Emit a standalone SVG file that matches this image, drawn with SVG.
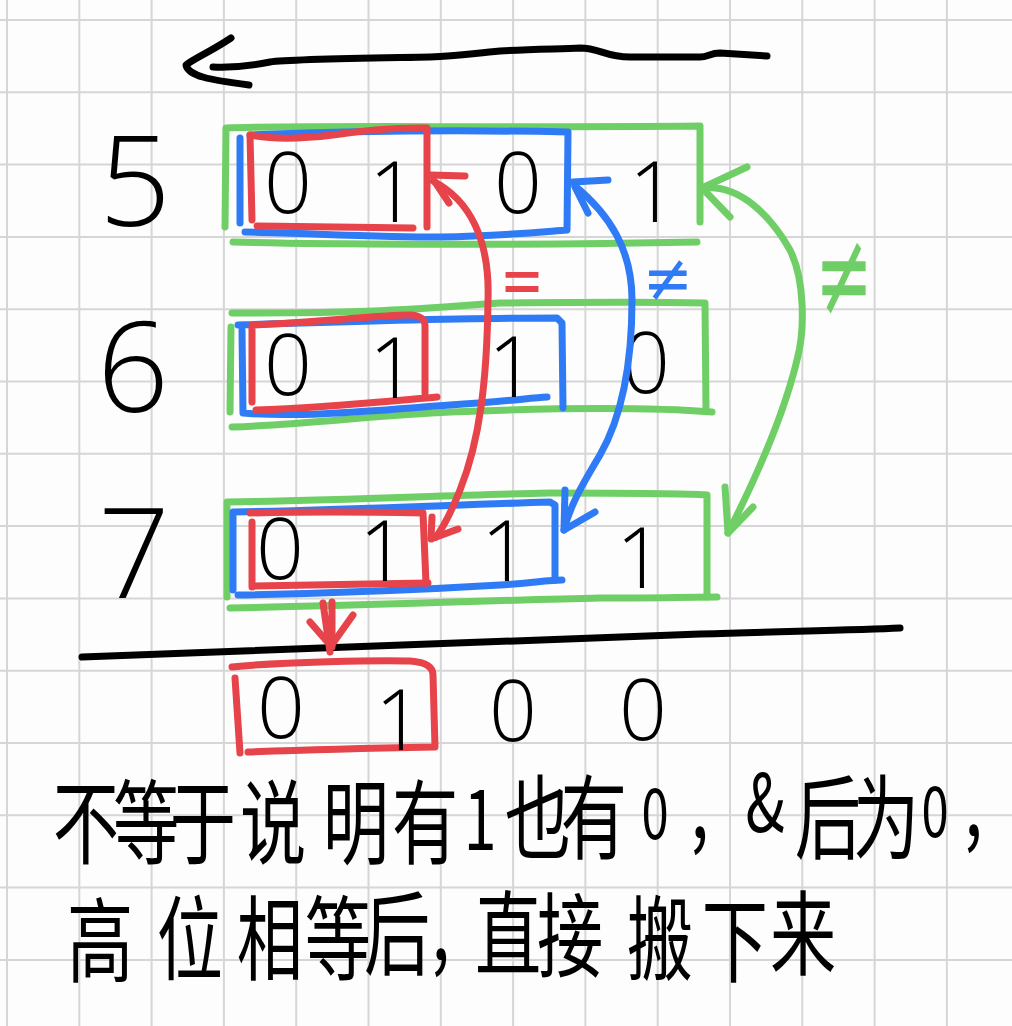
<svg xmlns="http://www.w3.org/2000/svg" width="1012" height="1026" viewBox="0 0 1012 1026">
<style>
.grid line{stroke:#d6d6d6;stroke-width:2}
.s{fill:none;stroke-width:7;stroke-linecap:round;stroke-linejoin:round}
.g{stroke:#6fcf66}
.b{stroke:#2f7bf5}
.r{stroke:#e6434a}
.k{stroke:#000}
.dig{font-family:"Open Sans","Liberation Sans",sans-serif;font-weight:300;font-size:84px;fill:#000;text-anchor:middle}
.big{font-family:"Open Sans","Liberation Sans",sans-serif;font-weight:300;font-size:126px;fill:#000;text-anchor:middle}
.cap{font-family:"Noto Sans CJK SC","Noto Sans",sans-serif;font-size:92px;fill:#000;text-anchor:middle}
.sym{font-family:"DejaVu Sans",sans-serif;text-anchor:middle}
</style>
<rect width="1012" height="1026" fill="#fdfdfd"/>
<g class="grid">
<line x1="7" y1="0" x2="7" y2="1026"/><line x1="79.3" y1="0" x2="79.3" y2="1026"/><line x1="151.6" y1="0" x2="151.6" y2="1026"/><line x1="223.9" y1="0" x2="223.9" y2="1026"/><line x1="296.2" y1="0" x2="296.2" y2="1026"/><line x1="368.5" y1="0" x2="368.5" y2="1026"/><line x1="440.8" y1="0" x2="440.8" y2="1026"/><line x1="513.1" y1="0" x2="513.1" y2="1026"/><line x1="585.4" y1="0" x2="585.4" y2="1026"/><line x1="657.7" y1="0" x2="657.7" y2="1026"/><line x1="730" y1="0" x2="730" y2="1026"/><line x1="802.3" y1="0" x2="802.3" y2="1026"/><line x1="874.6" y1="0" x2="874.6" y2="1026"/><line x1="946.9" y1="0" x2="946.9" y2="1026"/>
<line x1="0" y1="20" x2="1012" y2="20"/><line x1="0" y1="92.3" x2="1012" y2="92.3"/><line x1="0" y1="164.6" x2="1012" y2="164.6"/><line x1="0" y1="236.9" x2="1012" y2="236.9"/><line x1="0" y1="309.2" x2="1012" y2="309.2"/><line x1="0" y1="381.5" x2="1012" y2="381.5"/><line x1="0" y1="453.8" x2="1012" y2="453.8"/><line x1="0" y1="526.1" x2="1012" y2="526.1"/><line x1="0" y1="598.4" x2="1012" y2="598.4"/><line x1="0" y1="670.7" x2="1012" y2="670.7"/><line x1="0" y1="743" x2="1012" y2="743"/><line x1="0" y1="815.3" x2="1012" y2="815.3"/><line x1="0" y1="887.6" x2="1012" y2="887.6"/><line x1="0" y1="959.9" x2="1012" y2="959.9"/>
</g>

<g id="direction-arrow">
<path class="s k" d="M213,67 C235,68 250,66 270,62 C290,59 380,58 430,57 C460,56 475,53 500,51 C530,49 560,49 580,48 C600,48 605,57 630,57 L700,57 C708,57 710,53 720,53 L767,56"/>
<path class="s k" d="M231,38 C210,52 195,58 186,65 C188,76 210,80 249,85"/>
</g>

<g id="row5">
<text class="big" x="135" y="226">5</text>
<path class="s g" d="M225,227 L226,128 C300,125 500,128 700,126 L700,222"/>
<path class="s g" d="M233,242 C300,244 500,246 697,242"/>
<path class="s b" d="M245,232 C300,233 380,237 440,237 C500,236 540,232 567,230 L568,132 C470,130 350,131 250,135"/>
<path class="s b" d="M240,138 L240,223"/>
<path class="s r" d="M252,220 L250,135 C270,139 300,139 333,135 C360,131 390,127 427,128 L427,227"/>
<path class="s r" d="M257,226 L413,228"/>
<text class="dig" x="288" y="213">0</text>
<text class="dig" x="393" y="222">1</text>
<text class="dig" x="518" y="213">0</text>
<text class="dig" x="653" y="222">1</text>
</g>

<g id="row6">
<text class="big" x="133" y="412">6</text>
<path class="s g" d="M232,313 C350,314 420,309 500,303 C600,302 660,302 705,303 L706,410"/>
<path class="s g" d="M232,427 C300,425 380,415 450,412 C550,408 650,407 712,412"/>
<path class="s g" d="M230,412 L231,327"/>
<path class="s b" d="M238,325 C330,322 450,318 557,318 L562,323 L563,408"/>
<path class="s b" d="M242,330 L243,413 C300,418 380,410 450,405 C500,402 530,398 547,397"/>
<path class="s r" d="M252,402 L252,325 C320,322 380,315 410,315 C420,315 425,320 425,325 L425,393"/>
<path class="s r" d="M256,410 C320,408 380,402 437,397"/>
<text class="dig" x="288" y="395">0</text>
<text class="dig" x="393" y="398">1</text>
<text class="dig" x="512" y="397">1</text>
<text class="dig" x="646" y="393">0</text>
</g>

<g id="row7">
<text class="big" x="134" y="598">7</text>
<path class="s g" d="M227,597 L227,502 C350,500 450,495 550,493 C620,493 680,493 707,495 L707,597"/>
<path class="s g" d="M230,608 C350,606 500,600 600,598 C650,598 690,597 717,597"/>
<path class="s b" d="M233,590 L233,512 C350,510 450,505 550,502 L555,505 L555,580"/>
<path class="s b" d="M238,595 C350,593 450,588 500,585 C530,583 550,580 562,580"/>
<path class="s r" d="M250,513 C320,511 380,512 423,513 L426,583"/>
<path class="s r" d="M253,586 L428,583"/>
<path class="s r" d="M252,522 L252,587"/>
<text class="dig" x="280" y="579">0</text>
<text class="dig" x="383" y="581">1</text>
<text class="dig" x="505" y="581">1</text>
<text class="dig" x="640" y="588">1</text>
</g>

<g id="result">
<path class="s k" d="M82,657 C300,650 500,640 700,634 C800,631 860,630 900,628"/>
<path class="s r" d="M232,667 C280,662 380,660 410,661 C425,662 433,667 433,675 L435,747 C380,748 300,750 248,752"/>
<path class="s r" d="M235,678 L240,753"/>
<text class="dig" x="281" y="738">0</text>
<text class="dig" x="399" y="750">1</text>
<text class="dig" x="513" y="741">0</text>
<text class="dig" x="643" y="740">0</text>
</g>

<g id="connectors">
<path class="s r" d="M433,181 C470,200 490,240 488,300 C487,380 480,440 460,490 C452,510 445,525 436,537"/>
<path class="s r" d="M430,175 L465,176 M435,182 L449,203"/>
<path class="s r" d="M431,539 L458,529 M431,539 L432,517"/>
<path class="s b" d="M575,186 C610,215 632,250 632,300 C632,370 620,420 600,455 C585,480 570,505 564,530"/>
<path class="s b" d="M573,182 L608,180 M575,187 L588,213"/>
<path class="s b" d="M564,530 L565,490 M564,530 L595,512"/>
<path class="s g" d="M705,188 C740,185 770,215 790,250 C805,280 805,330 797,360 C785,410 760,470 728,533"/>
<path class="s g" d="M702,188 L747,167 M702,188 L730,217"/>
<path class="s g" d="M728,533 L725,487 M728,533 L753,507"/>
<path class="s r" d="M323,603 L330,652 M332,602 L332,647"/>
<path class="s r" d="M310,622 L331,646 L353,615"/>
<text class="sym" font-size="42" fill="#e6434a" transform="translate(522,278) scale(1.25,1.7)" y="15.5">=</text>
<text class="sym" font-size="48" fill="#2f7bf5" transform="translate(668,276) scale(1.25,1.4)" y="17.8">≠</text>
<text class="sym" font-size="60" fill="#6fcf66" transform="translate(844,272) scale(1.15,2)" y="22">≠</text>
</g>

<g id="caption">
<text class="cap" transform="scale(0.72,1)"><tspan x="119.4" y="857">不</tspan><tspan x="202.8" y="857">等</tspan><tspan x="281.9" y="857">于</tspan><tspan x="379.2" y="857">说</tspan><tspan x="494.4" y="857">明</tspan><tspan x="590.3" y="857">有</tspan><tspan x="666.7" y="850" font-size="82">1</tspan><tspan x="747.2" y="852">也</tspan><tspan x="825" y="852">有</tspan><tspan x="909.7" y="839" font-size="68">0</tspan><tspan x="972" y="838">,</tspan><tspan x="1062.5" y="832" font-size="80">&amp;</tspan><tspan x="1150" y="852">后</tspan><tspan x="1230.6" y="852">为</tspan><tspan x="1298.6" y="837" font-size="68">0</tspan><tspan x="1352" y="836">,</tspan></text>
<text class="cap" transform="scale(0.72,1)"><tspan x="138.9" y="975">高</tspan><tspan x="263.9" y="973">位</tspan><tspan x="375" y="973">相</tspan><tspan x="469.4" y="973">等</tspan><tspan x="551.4" y="968">后</tspan><tspan x="612" y="960">,</tspan><tspan x="705.6" y="968">直</tspan><tspan x="791.7" y="970">接</tspan><tspan x="916.7" y="973">搬</tspan><tspan x="1020.8" y="975">下</tspan><tspan x="1115.3" y="968">来</tspan></text>
</g>
</svg>
